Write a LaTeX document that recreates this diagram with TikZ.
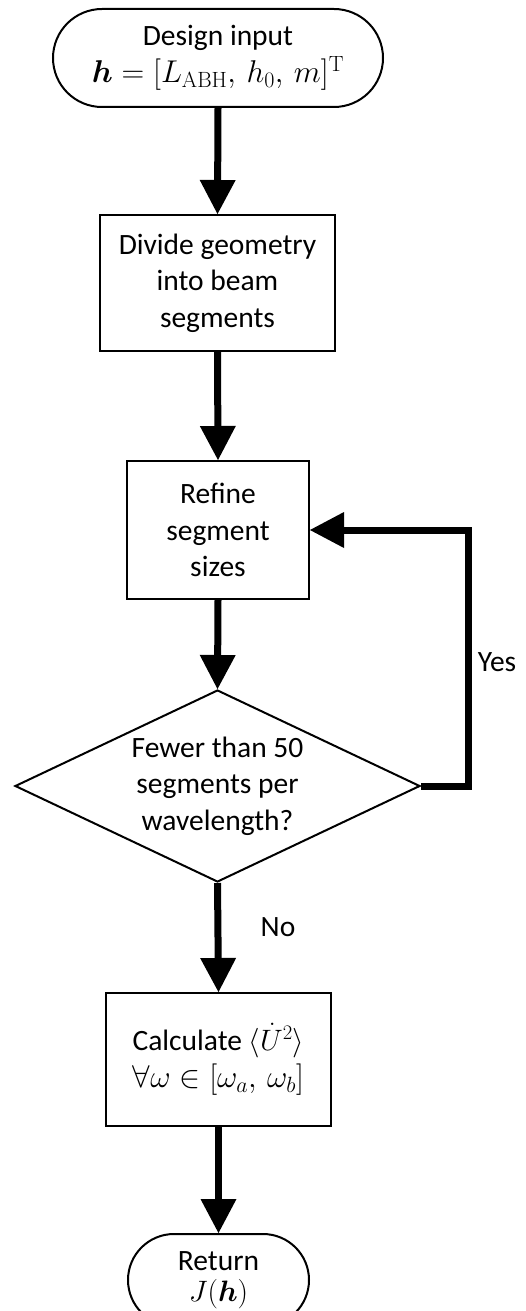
\RequirePackage{fix-cm}
\documentclass[tikz,border=0pt]{standalone}
\usepackage{amsmath}
\usepackage{bm}
\usepackage[no-math]{fontspec}
\setmainfont{Carlito}
\usetikzlibrary{arrows.meta,shapes.geometric,shapes.misc}

% slightly larger size for the formula lines
\newcommand{\bigmath}[1]{{\fontsize{31.5}{36.5}\selectfont$#1$}}

\tikzset{
  every node/.style={font=\fontsize{29.5}{36.5}\selectfont, align=center},
  procbox/.style={draw, line width=2pt, rectangle, inner sep=0pt},
  termbox/.style={draw, line width=2pt, rounded rectangle, inner sep=0pt},
  decbox/.style={draw, line width=2pt, diamond, inner sep=0pt},
  flow/.style={line width=7pt, -{Triangle[width=36pt,length=34pt,line width=0pt]}},
}

\begin{document}
\begin{tikzpicture}[x=1pt,y=-1pt]
\useasboundingbox (0,0) rectangle (526,1311);

% process steps
\node[termbox, minimum width=330pt, minimum height=98pt] (start) at (218,58)
  {Design input\\ \bigmath{\bm{h}=[L_{\mathrm{ABH}},\,h_0,\,m]^{\mathrm{T}}}};
\node[procbox, minimum width=235pt, minimum height=136pt] (divide) at (217.5,283)
  {Divide geometry\\into beam\\segments};
\node[procbox, minimum width=182pt, minimum height=138pt] (refine) at (218,530)
  {Refine\\segment\\sizes};
\node[decbox, minimum width=405pt, minimum height=192pt] (decide) at (217.5,786) {};
\node (decidetext) at (decide.center)
  {Fewer than 50\\segments per\\wavelength?};
\node[procbox, minimum width=225pt, minimum height=133pt] (calc) at (218.5,1059.5)
  {Calculate $\langle \dot{U}^2\rangle$\\[1pt]\bigmath{\forall\omega\in[\omega_a,\,\omega_b]}};
\node[termbox, minimum width=181pt, minimum height=92pt] (ret) at (218.5,1280)
  {Return\\[-6pt]$J(\bm{h})$};

% connectors
\draw[flow] (start.south) -- (divide.north);
\draw[flow] (divide.south) -- (refine.north);
\draw[flow] (refine.south) -- (decide.north);
\draw[flow] (decide.east) -- ++(47,0) |- (refine.east);
\draw[flow] (decide.south) -- (calc.north);
\draw[flow] (calc.south) -- (ret.north);

% branch labels
\node (yes) at (497,662) {Yes};
\node (no) at (278,927) {No};
\end{tikzpicture}
\end{document}
